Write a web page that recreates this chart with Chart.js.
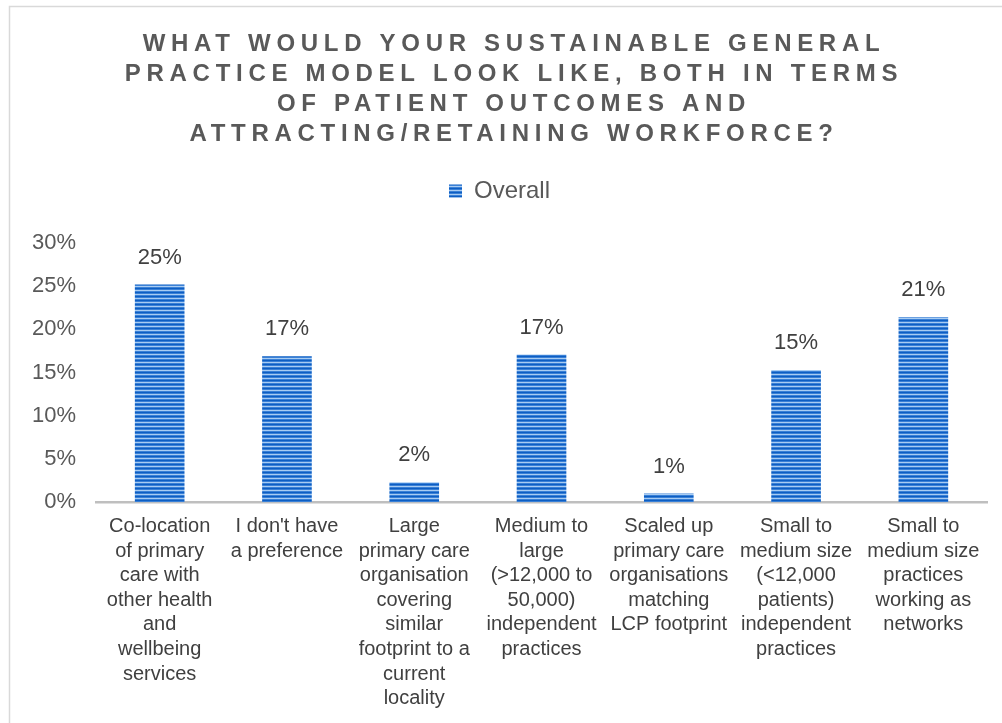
<!DOCTYPE html>
<html>
<head>
<meta charset="utf-8">
<script src="https://cdn.jsdelivr.net/npm/chart.js@4.4.1/dist/chart.umd.min.js"></script>
<style>
  html, body { margin: 0; padding: 0; background: #fff; }
  #wrap { width: 1002px; height: 723px; }
</style>
</head>
<body>
<div id="wrap"><canvas id="myChart" width="1002" height="723"></canvas></div>
<script>
var titleLines = ['WHAT WOULD YOUR SUSTAINABLE GENERAL', 'PRACTICE MODEL LOOK LIKE, BOTH IN TERMS', 'OF PATIENT OUTCOMES AND', 'ATTRACTING/RETAINING WORKFORCE?'];
var categories = [
    ['Co-location', 'of primary', 'care with', 'other health', 'and', 'wellbeing', 'services'],
    ['I don\'t have', 'a preference'],
    ['Large', 'primary care', 'organisation', 'covering', 'similar', 'footprint to a', 'current', 'locality'],
    ['Medium to', 'large', '(>12,000 to', '50,000)', 'independent', 'practices'],
    ['Scaled up', 'primary care', 'organisations', 'matching', 'LCP footprint'],
    ['Small to', 'medium size', '(<12,000', 'patients)', 'independent', 'practices'],
    ['Small to', 'medium size', 'practices', 'working as', 'networks']
];
var overall = [25.2, 16.9, 2.3, 17.1, 1.0, 15.3, 21.4];
var seriesName = 'Overall';

// striped fill like the original
function stripes() {
    var c = document.createElement('canvas');
    c.width = 4; c.height = 4;
    var g = c.getContext('2d');
    var rows = ['#0d5ec3', '#3a80d6', '#a8ccf2', '#3a80d6'];
    for (var i = 0; i < 4; i++) { g.fillStyle = rows[i]; g.fillRect(0, i, 4, 1); }
    return g.createPattern(c, 'repeat');
}
var ctx = document.getElementById('myChart').getContext('2d');
var barFill = stripes();

var framePlugin = {
    id: 'frame',
    beforeDraw: function (chart) {
        var c = chart.ctx;
        c.save();
        c.strokeStyle = '#d9d9d9';
        c.lineWidth = 1.5;
        c.strokeRect(9.5, 6.5, 1200, 1200);
        c.restore();
    },
    afterDraw: function (chart) {
        var c = chart.ctx;
        c.save();
        c.fillStyle = '#595959';
        c.font = 'bold 24px "Liberation Sans", Arial, sans-serif';
        c.letterSpacing = '5.7px';
        c.textAlign = 'center';
        c.textBaseline = 'middle';
        for (var i = 0; i < titleLines.length; i++) {
            c.fillText(titleLines[i], 514, 44 + i * 30);
        }
        c.restore();
    }
};

var labelPlugin = {
    id: 'valueLabels',
    afterDatasetsDraw: function (chart) {
        var c = chart.ctx;
        var meta = chart.getDatasetMeta(0);
        c.save();
        c.fillStyle = '#404040';
        c.font = '22px "Liberation Sans", Arial, sans-serif';
        c.textAlign = 'center';
        c.textBaseline = 'middle';
        meta.data.forEach(function (bar, i) {
            c.fillText(Math.round(overall[i]) + '%', bar.x, bar.y - 27);
        });
        c.restore();
    }
};

var myChart = new Chart(ctx, {
    type: 'bar',
    data: {
        labels: categories,
        datasets: [{
            label: seriesName,
            data: overall,
            backgroundColor: barFill,
            borderWidth: 0,
            barPercentage: 0.39,
            categoryPercentage: 1
        }]
    },
    options: {
        responsive: false,
        animation: false,
        layout: { padding: { top: 171, left: 12, right: 15, bottom: 0 } },
        plugins: {
            legend: {
                display: true,
                position: 'top',
                labels: {
                    color: '#595959',
                    font: { size: 24, family: '"Liberation Sans", Arial, sans-serif' },
                    boxWidth: 13,
                    boxHeight: 13,
                    padding: 8
                }
            },
            tooltip: { enabled: false }
        },
        scales: {
            x: {
                grid: { display: false, drawTicks: false },
                border: { display: true, color: '#bfbfbf', width: 2.5 },
                ticks: {
                    color: '#404040',
                    font: { size: 20, family: '"Liberation Sans", Arial, sans-serif', lineHeight: 1.23 },
                    maxRotation: 0,
                    autoSkip: false,
                    padding: 12
                }
            },
            spacer: {
                type: 'category',
                position: 'top',
                grid: { display: false, drawTicks: false },
                border: { display: false },
                ticks: { display: false },
                afterFit: function (s) { s.height = 30; }
            },
            y: {
                min: 0,
                max: 30,
                grid: { display: false, drawTicks: false },
                border: { display: false },
                ticks: {
                    stepSize: 5,
                    color: '#595959',
                    font: { size: 22, family: '"Liberation Sans", Arial, sans-serif' },
                    padding: 20,
                    callback: function (v) { return v + '%'; }
                }
            }
        }
    },
    plugins: [framePlugin, labelPlugin]
});
</script>
</body>
</html>
